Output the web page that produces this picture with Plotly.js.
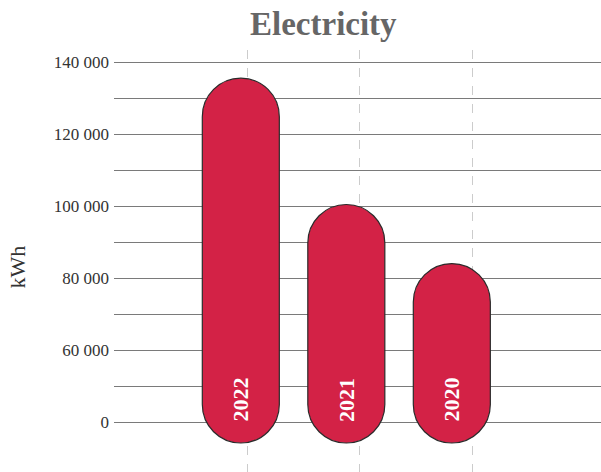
<!DOCTYPE html>
<html>
<head>
<meta charset="utf-8">
<script src="https://cdn.plot.ly/plotly-3.0.1.min.js"></script>
<style>
  html, body { margin: 0; padding: 0; background: #ffffff; }
  #chart { width: 601px; height: 472px; }
</style>
</head>
<body>
<div id="chart"></div>
<script>
// Yearly electricity use, kWh
const years = ["2022", "2021", "2020"];
const usage = [135600, 100500, 84100];

// Axis ticks: the axis is broken below 60 000, the lowest line stands for 0
const tickValues = [40000, 50000, 60000, 70000, 80000, 90000, 100000, 110000, 120000, 130000, 140000];
const tickLabels = ["0", "", "60 000", "", "80 000", "", "100 000", "", "120 000", "", "140 000"];

// Capsule foot below the zero line and the level of the year labels (axis units)
const capsuleFoot = 34250;
const yearLabelLevel = 46300;

const barColor = "#d32246";
const edgeColor = "#2b2b2b";
const serif = "Liberation Serif, Times New Roman, serif";

// a bar with an explicit base gets both ends rounded: a capsule
const capsules = {
  type: "bar",
  x: years,
  base: years.map(() => capsuleFoot),
  y: usage.map(v => v - capsuleFoot),
  width: 0.73,
  marker: { color: barColor, opacity: 1, cornerradius: "50%", line: { color: edgeColor, width: 1.2 } },
  hoverinfo: "skip",
  showlegend: false
};

// carries the dashed year guides
const guides = {
  type: "scatter",
  mode: "markers",
  x: years,
  y: years.map(() => null),
  xaxis: "x2",
  hoverinfo: "skip",
  showlegend: false
};

// category index of each year on the bar axis
const yearAnnotations = years.map((yr, i) => ({
  x: i,
  y: yearLabelLevel,
  xref: "x",
  yref: "y",
  text: "<b>" + yr + "</b>",
  textangle: -90,
  showarrow: false,
  font: { family: serif, size: 22, color: "#ffffff" }
}));

const layout = {
  width: 601,
  height: 472,
  margin: { l: 114, r: 0, t: 50, b: 0 },
  paper_bgcolor: "#ffffff",
  plot_bgcolor: "#ffffff",
  font: { family: serif, color: "#333333" },
  title: {
    text: "<b>Electricity</b>",
    font: { family: serif, size: 33, color: "#666666" },
    x: 0.538,
    xref: "container",
    xanchor: "center",
    y: 0.95,
    yref: "container",
    yanchor: "middle"
  },
  xaxis: {
    type: "category",
    range: [-1.202, 3.414],
    showgrid: false,
    zeroline: false,
    showline: false,
    showticklabels: false,
    ticks: ""
  },
  xaxis2: {
    type: "category",
    overlaying: "x",
    anchor: "y",
    range: [-1.185, 3.144],
    showgrid: true,
    gridcolor: "#cccccc",
    gridwidth: 1,
    griddash: "dash",
    zeroline: false,
    showline: false,
    showticklabels: false,
    ticks: ""
  },
  yaxis: {
    range: [26194, 143417],
    tickmode: "array",
    tickvals: tickValues,
    ticktext: tickLabels,
    showgrid: true,
    gridcolor: "#7a7a7a",
    gridwidth: 1,
    zeroline: false,
    showline: false,
    ticks: "",
    ticklabelstandoff: 4,
    tickfont: { family: serif, size: 17, color: "#333333" }
  },
  annotations: yearAnnotations.concat([{
    text: "kWh",
    xref: "paper",
    yref: "paper",
    x: -0.199,
    y: 0.485,
    xanchor: "center",
    yanchor: "middle",
    textangle: -90,
    showarrow: false,
    font: { family: serif, size: 22, color: "#333333" }
  }])
};

Plotly.newPlot("chart", [guides, capsules], layout, { displayModeBar: false, staticPlot: true });
</script>
</body>
</html>
